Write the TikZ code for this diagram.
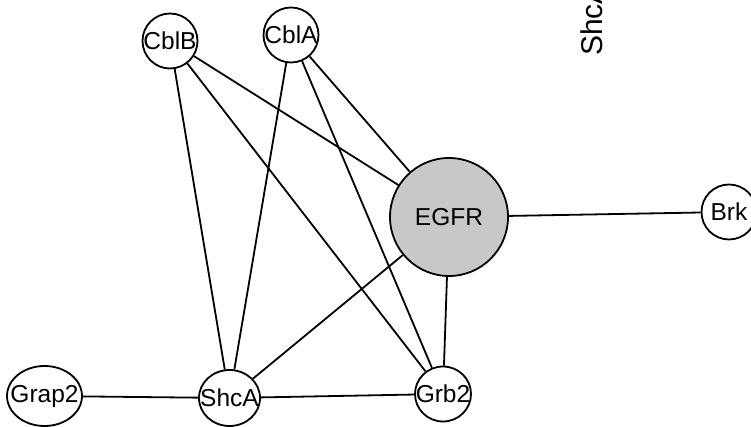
\documentclass[tikz,border=0pt]{standalone}
\usepackage{fontspec}
\setmainfont{Liberation Sans}
\usetikzlibrary{shapes.geometric}
\definecolor{egfrgray}{RGB}{200,200,200}
\begin{document}
\begin{tikzpicture}[x=1pt,y=1pt,
  prot/.style={ellipse,draw=black,line width=1.8pt,fill=white,inner sep=0pt,
    label={[inner sep=0pt,font=\fontsize{24.5}{24.5}\selectfont]center:#1}},
  edge/.style={line width=1.8pt,black}]
\clip (0,0) rectangle (751,427);
\node[prot=CblB,minimum width=55pt,minimum height=55pt] (cblb) at (170,386) {};
\node[prot=CblA,minimum width=55pt,minimum height=55pt] (cbla) at (291,392) {};
\node[prot=EGFR,fill=egfrgray,minimum width=118pt,minimum height=118pt] (egfr) at (449,210) {};
\node[prot=Brk,minimum width=55pt,minimum height=55pt] (brk) at (729,215) {};
\node[prot=Grap2,minimum width=75pt,minimum height=60pt] (grap2) at (44.5,31) {};
\node[prot=ShcA,minimum width=61pt,minimum height=56pt] (shca) at (229.5,29) {};
\node[prot=Grb2,minimum width=56pt,minimum height=55pt] (grb2) at (443,33) {};
\node[rotate=90,anchor=base west,inner sep=0pt,font=\fontsize{30}{30}\selectfont] (lbl) at (602,371) {ShcA};
\draw[edge] (cblb) -- (egfr);
\draw[edge] (cblb) -- (shca);
\draw[edge] (cblb) -- (grb2);
\draw[edge] (cbla) -- (egfr);
\draw[edge] (cbla) -- (shca);
\draw[edge] (cbla) -- (grb2);
\draw[edge] (egfr) -- (brk);
\draw[edge] (egfr) -- (shca);
\draw[edge] (egfr) -- (grb2);
\draw[edge] (grap2) -- (shca);
\draw[edge] (shca) -- (grb2);
\end{tikzpicture}
\end{document}
